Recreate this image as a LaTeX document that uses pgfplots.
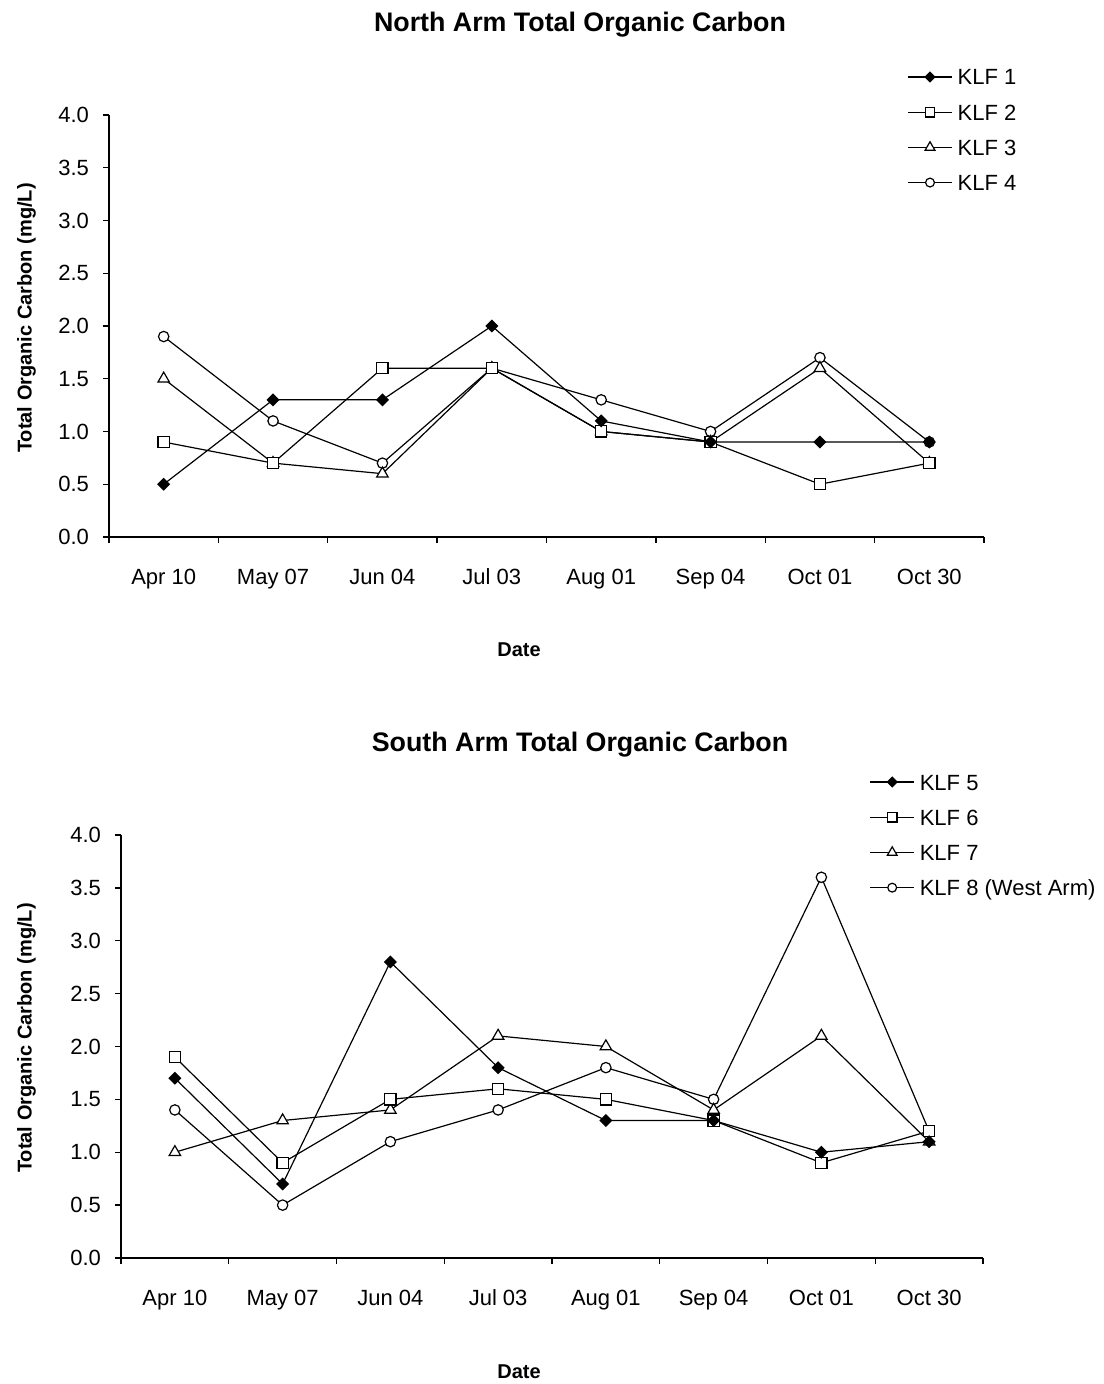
\documentclass[border=0pt]{standalone}
\usepackage{fontspec}
\setmainfont{Liberation Sans}
\usepackage{pgfplots}
\usepackage{pgfplotstable}
\pgfplotsset{compat=1.18}

% Total organic carbon (mg/L) by sampling date
\pgfplotstableread{
x   k1  k2  k3  k4
0   0.5 0.9 1.5 1.9
1   1.3 0.7 0.7 1.1
2   1.3 1.6 0.6 0.7
3   2.0 1.6 1.6 1.6
4   1.1 1.0 1.0 1.3
5   0.9 0.9 0.9 1.0
6   0.9 0.5 1.6 1.7
7   0.9 0.7 0.7 0.9
}\northdata

\pgfplotstableread{
x   k5  k6  k7  k8
0   1.7 1.9 1.0 1.4
1   0.7 0.9 1.3 0.5
2   2.8 1.5 1.4 1.1
3   1.8 1.6 2.1 1.4
4   1.3 1.5 2.0 1.8
5   1.3 1.3 1.4 1.5
6   1.0 0.9 2.1 3.6
7   1.1 1.2 1.1 1.2
}\southdata

\pgfplotsset{
  tocaxis/.style={
    scale only axis,
    xmin=-0.5, xmax=7.5, ymin=0, ymax=4,
    axis x line*=bottom, axis y line*=left,
    axis line style={line width=0.9pt},
    xtick={0,...,7},
    xticklabels={Apr 10,May 07,Jun 04,Jul 03,Aug 01,Sep 04,Oct 01,Oct 30},
    major x tick style={draw=none},
    minor xtick={-0.5,0.5,...,7.5},
    minor tick length=3pt,
    ytick={0,0.5,...,4},
    major tick length=3pt,
    tick align=outside,
    tick style={black, line width=0.7pt},
    tick label style={font=\fontsize{11}{13}\selectfont},
    xticklabel style={anchor=base, yshift=-21pt},
    /pgf/number format/assume math mode=true,
    yticklabel style={xshift=-3.5pt, /pgf/number format/.cd, fixed, fixed zerofill, precision=1},
    legend style={draw=none, fill=none, anchor=north west, inner sep=0pt,
      row sep=7.6pt, column sep=2.5pt,
      font=\fontsize{11}{13}\selectfont,
      nodes={inner sep=0pt, text height=8pt, text depth=2pt}},
    legend cell align=left,
    legend image code/.code={
      \draw[mark repeat=2, mark phase=2, #1, every mark/.append style={scale=0.85}]
        plot coordinates {(0pt,1pt) (11pt,1pt) (22pt,1pt)};},
    reverse legend,
    every axis plot/.append style={black, line width=0.6pt},
  },
  sA/.style={mark=square*, mark size=2pt, mark options={solid, fill=black, rotate=45}},
  sB/.style={mark=square*, mark size=2.8pt, mark options={solid, fill=white}},
  sC/.style={mark=triangle*, mark size=3.3pt, mark options={solid, fill=white}},
  sD/.style={mark=*, mark size=2.6pt, mark options={solid, fill=white}},
}

\begin{document}
\begin{tikzpicture}[x=1pt, y=1pt]
\useasboundingbox (0,0) rectangle (551.5,692);

% North arm
\begin{axis}[tocaxis, at={(54.5pt,423.5pt)}, anchor=south west,
  width=437.5pt, height=211pt,
  legend style={at={(0.912,1.11)}}]
  \addplot[sD] table[x=x, y=k4] {\northdata}; \addlegendentry{KLF 4}
  \addplot[sC] table[x=x, y=k3] {\northdata}; \addlegendentry{KLF 3}
  \addplot[sB] table[x=x, y=k2] {\northdata}; \addlegendentry{KLF 2}
  \addplot[sA] table[x=x, y=k1] {\northdata}; \addlegendentry{KLF 1}
\end{axis}

% South arm
\begin{axis}[tocaxis, at={(60.5pt,63pt)}, anchor=south west,
  width=431pt, height=211.5pt,
  legend style={at={(0.868,1.145)}}]
  \addplot[sD] table[x=x, y=k8] {\southdata}; \addlegendentry{KLF 8 (West Arm)}
  \addplot[sC] table[x=x, y=k7] {\southdata}; \addlegendentry{KLF 7}
  \addplot[sB] table[x=x, y=k6] {\southdata}; \addlegendentry{KLF 6}
  \addplot[sA] table[x=x, y=k5] {\southdata}; \addlegendentry{KLF 5}
\end{axis}

% titles and axis labels
\node[font=\fontsize{13.4}{15}\bfseries\selectfont] at (290,679.5) {North Arm Total Organic Carbon};
\node[font=\fontsize{13.4}{15}\bfseries\selectfont] at (290,319.5) {South Arm Total Organic Carbon};
\node[font=\fontsize{10}{12}\bfseries\selectfont, rotate=90, anchor=base] at (15.8,533) {Total Organic Carbon (mg/L)};
\node[font=\fontsize{10}{12}\bfseries\selectfont, rotate=90, anchor=base] at (15.8,173) {Total Organic Carbon (mg/L)};
\node[font=\fontsize{10}{12}\bfseries\selectfont] at (259.5,367) {Date};
\node[font=\fontsize{10}{12}\bfseries\selectfont] at (259.5,6) {Date};
\end{tikzpicture}
\end{document}
